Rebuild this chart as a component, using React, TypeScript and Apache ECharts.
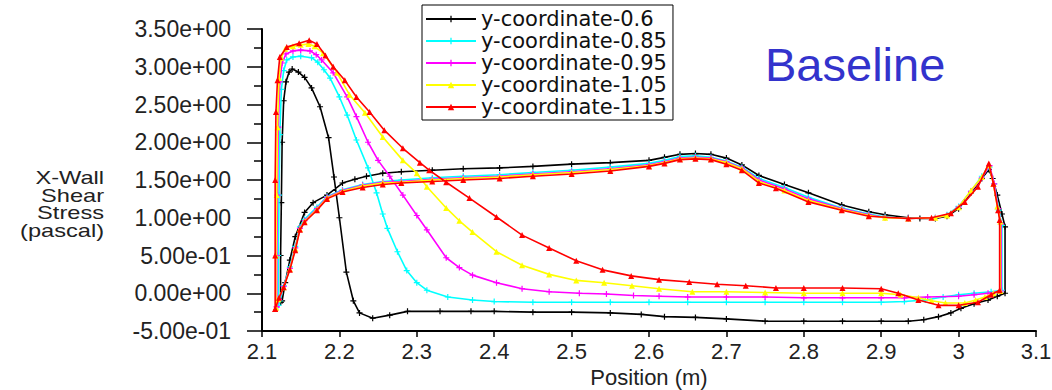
import React, { useEffect, useRef } from "react";
import * as echarts from "echarts";

const seriesNames = [
  "y-coordinate-0.6",
  "y-coordinate-0.85",
  "y-coordinate-0.95",
  "y-coordinate-1.05",
  "y-coordinate-1.15",
];
const seriesColors = ["#000000", "#00ffff", "#ff00ff", "#ffff00", "#ff0000"];

const xTicks = { min: 2.1, max: 3.1, step: 0.1 };
const yTicks = { min: -0.5, max: 3.5, step: 0.5 };
const yAxisTitleLines = ["X-Wall", "Shear", "Stress", "(pascal)"];

const y060: [number, number][] = [
  [2.124, -0.12], [2.124, 0.5], [2.125, 1.2], [2.126, 2.0], [2.128, 2.55], [2.131, 2.8], [2.135, 2.93],
  [2.139, 2.97], [2.147, 2.93], [2.155, 2.86], [2.164, 2.72], [2.175, 2.47], [2.186, 2.06], [2.193, 1.54],
  [2.2, 1.0], [2.209, 0.28], [2.218, -0.1], [2.226, -0.26], [2.243, -0.33], [2.265, -0.29], [2.288, -0.24],
  [2.33, -0.24], [2.37, -0.24], [2.4, -0.24], [2.45, -0.25], [2.5, -0.25], [2.55, -0.26], [2.59, -0.28],
  [2.62, -0.31], [2.66, -0.32], [2.7, -0.34], [2.75, -0.37], [2.8, -0.37], [2.85, -0.37], [2.9, -0.37],
  [2.935, -0.37], [2.955, -0.35], [2.974, -0.31], [2.99, -0.26], [3.003, -0.2], [3.02, -0.14], [3.038, -0.09],
  [3.05, -0.04], [3.06, 0.0], [3.06, 0.88], [3.056, 1.05], [3.05, 1.3], [3.044, 1.52], [3.039, 1.64],
  [3.03, 1.52], [3.016, 1.33], [3.0, 1.12], [2.985, 1.02], [2.97, 0.99], [2.95, 0.99], [2.935, 1.0],
  [2.905, 1.04], [2.884, 1.08], [2.849, 1.17], [2.806, 1.33], [2.775, 1.44], [2.742, 1.56], [2.72, 1.7],
  [2.7, 1.79], [2.68, 1.84], [2.66, 1.85], [2.64, 1.84], [2.62, 1.8], [2.6, 1.76], [2.55, 1.73], [2.5, 1.71],
  [2.45, 1.68], [2.407, 1.66], [2.36, 1.65], [2.32, 1.63], [2.28, 1.61], [2.256, 1.59], [2.235, 1.55],
  [2.22, 1.51], [2.204, 1.46], [2.184, 1.3], [2.166, 1.2], [2.155, 1.07], [2.143, 0.75], [2.136, 0.44],
  [2.13, 0.14], [2.126, -0.1], [2.124, -0.12],
];

const y085: [number, number][] = [
  [2.121, -0.16], [2.121, 0.5], [2.122, 1.3], [2.123, 2.1], [2.125, 2.7], [2.128, 2.95], [2.132, 3.09],
  [2.14, 3.13], [2.15, 3.14], [2.164, 3.12], [2.172, 3.06], [2.18, 2.96], [2.188, 2.85], [2.2, 2.6],
  [2.21, 2.36], [2.222, 2.03], [2.237, 1.66], [2.248, 1.33], [2.256, 1.05], [2.262, 0.86], [2.275, 0.55],
  [2.287, 0.3], [2.3, 0.14], [2.313, 0.04], [2.34, -0.05], [2.372, -0.09], [2.4, -0.11], [2.45, -0.12],
  [2.5, -0.12], [2.55, -0.12], [2.6, -0.12], [2.65, -0.12], [2.7, -0.12], [2.75, -0.12], [2.8, -0.12],
  [2.85, -0.12], [2.9, -0.12], [2.93, -0.11], [2.957, -0.09], [2.98, -0.05], [3.0, -0.02], [3.02, 0.0],
  [3.042, 0.02], [3.056, 0.04], [3.056, 0.9], [3.052, 1.1], [3.046, 1.45], [3.04, 1.67], [3.03, 1.55],
  [3.016, 1.35], [3.0, 1.15], [2.985, 1.04], [2.97, 1.0], [2.935, 0.99], [2.905, 1.01], [2.884, 1.05],
  [2.849, 1.13], [2.806, 1.27], [2.775, 1.4], [2.742, 1.52], [2.72, 1.67], [2.7, 1.75], [2.68, 1.8],
  [2.66, 1.82], [2.64, 1.81], [2.62, 1.76], [2.6, 1.72], [2.55, 1.67], [2.5, 1.63], [2.45, 1.6],
  [2.407, 1.57], [2.36, 1.55], [2.32, 1.53], [2.28, 1.5], [2.256, 1.48], [2.23, 1.44], [2.204, 1.37],
  [2.184, 1.28], [2.171, 1.14], [2.155, 0.98], [2.149, 0.88], [2.143, 0.62], [2.136, 0.35], [2.128, 0.1],
  [2.123, -0.1], [2.121, -0.16],
];

const y095: [number, number][] = [
  [2.119, -0.18], [2.119, 0.5], [2.12, 1.3], [2.121, 2.2], [2.123, 2.8], [2.126, 3.05], [2.131, 3.17],
  [2.14, 3.21], [2.15, 3.22], [2.162, 3.21], [2.17, 3.16], [2.177, 3.09], [2.192, 2.92], [2.21, 2.6],
  [2.222, 2.34], [2.237, 2.0], [2.25, 1.76], [2.265, 1.55], [2.282, 1.3], [2.3, 1.03], [2.313, 0.84],
  [2.338, 0.47], [2.355, 0.34], [2.372, 0.24], [2.403, 0.14], [2.436, 0.06], [2.471, 0.02], [2.51, 0.0],
  [2.545, -0.01], [2.58, -0.03], [2.613, -0.04], [2.65, -0.05], [2.7, -0.05], [2.75, -0.05], [2.8, -0.06],
  [2.85, -0.06], [2.9, -0.06], [2.93, -0.06], [2.96, -0.05], [3.0, -0.04], [3.02, -0.02], [3.038, 0.0],
  [3.055, 0.03], [3.055, 0.92], [3.051, 1.12], [3.046, 1.45], [3.04, 1.69], [3.03, 1.53], [3.016, 1.35],
  [3.0, 1.14], [2.985, 1.03], [2.97, 1.0], [2.935, 0.99], [2.905, 1.0], [2.884, 1.04], [2.849, 1.12],
  [2.806, 1.25], [2.775, 1.38], [2.742, 1.5], [2.72, 1.66], [2.7, 1.74], [2.68, 1.79], [2.66, 1.8],
  [2.64, 1.79], [2.62, 1.74], [2.6, 1.7], [2.55, 1.65], [2.5, 1.61], [2.45, 1.58], [2.407, 1.55],
  [2.36, 1.53], [2.32, 1.51], [2.28, 1.48], [2.256, 1.47], [2.23, 1.43], [2.204, 1.36], [2.184, 1.27],
  [2.171, 1.12], [2.155, 0.96], [2.149, 0.86], [2.143, 0.6], [2.136, 0.33], [2.128, 0.09], [2.122, -0.08],
  [2.119, -0.18],
];

const y105: [number, number][] = [
  [2.118, -0.19], [2.118, 0.5], [2.119, 1.3], [2.12, 2.2], [2.122, 2.85], [2.125, 3.12], [2.13, 3.24],
  [2.14, 3.27], [2.15, 3.29], [2.16, 3.3], [2.168, 3.27], [2.179, 3.18], [2.197, 2.92], [2.213, 2.63],
  [2.233, 2.39], [2.256, 2.07], [2.282, 1.76], [2.3, 1.59], [2.313, 1.41], [2.338, 1.13], [2.355, 0.96],
  [2.372, 0.81], [2.403, 0.55], [2.436, 0.37], [2.471, 0.25], [2.506, 0.17], [2.542, 0.14], [2.578, 0.1],
  [2.613, 0.06], [2.656, 0.02], [2.7, 0.02], [2.75, 0.01], [2.8, 0.0], [2.85, 0.0], [2.9, 0.0],
  [2.925, -0.02], [2.948, -0.06], [2.965, -0.1], [2.983, -0.13], [3.008, -0.13], [3.022, -0.09],
  [3.034, -0.05], [3.045, 0.0], [3.054, 0.03], [3.054, 0.95], [3.05, 1.15], [3.045, 1.45], [3.039, 1.7],
  [3.03, 1.54], [3.016, 1.36], [3.0, 1.14], [2.985, 1.03], [2.97, 1.0], [2.935, 0.99], [2.905, 1.0],
  [2.884, 1.03], [2.849, 1.11], [2.806, 1.23], [2.775, 1.36], [2.742, 1.48], [2.72, 1.65], [2.7, 1.73],
  [2.68, 1.78], [2.66, 1.79], [2.64, 1.78], [2.62, 1.73], [2.6, 1.69], [2.55, 1.64], [2.5, 1.6],
  [2.45, 1.57], [2.407, 1.54], [2.36, 1.52], [2.32, 1.5], [2.28, 1.47], [2.256, 1.46], [2.23, 1.42],
  [2.204, 1.35], [2.184, 1.26], [2.171, 1.11], [2.155, 0.95], [2.149, 0.85], [2.143, 0.59], [2.136, 0.32],
  [2.128, 0.08], [2.121, -0.08], [2.118, -0.19],
];

const y115: [number, number][] = [
  [2.117, -0.21], [2.117, 0.5], [2.117, 1.5], [2.118, 2.4], [2.12, 2.82], [2.123, 3.13], [2.132, 3.26],
  [2.148, 3.31], [2.161, 3.35], [2.171, 3.3], [2.182, 3.15], [2.192, 3.0], [2.207, 2.82], [2.222, 2.6],
  [2.239, 2.4], [2.258, 2.16], [2.282, 1.92], [2.304, 1.73], [2.316, 1.63], [2.338, 1.47], [2.368, 1.26],
  [2.403, 1.01], [2.436, 0.77], [2.471, 0.6], [2.506, 0.43], [2.54, 0.31], [2.577, 0.23], [2.613, 0.18],
  [2.652, 0.15], [2.688, 0.12], [2.725, 0.1], [2.764, 0.07], [2.8, 0.07], [2.85, 0.07], [2.9, 0.06],
  [2.922, 0.0], [2.948, -0.09], [2.974, -0.16], [3.0, -0.16], [3.025, -0.12], [3.042, -0.02],
  [3.053, 0.04], [3.053, 0.97], [3.051, 1.1], [3.045, 1.45], [3.039, 1.72], [3.025, 1.41], [3.008, 1.21],
  [2.99, 1.06], [2.965, 1.0], [2.935, 0.99], [2.884, 1.02], [2.849, 1.1], [2.806, 1.21], [2.764, 1.39],
  [2.742, 1.46], [2.72, 1.63], [2.7, 1.71], [2.68, 1.77], [2.66, 1.78], [2.64, 1.77], [2.62, 1.72],
  [2.6, 1.68], [2.55, 1.62], [2.5, 1.58], [2.45, 1.55], [2.407, 1.52], [2.36, 1.5], [2.32, 1.48],
  [2.28, 1.46], [2.256, 1.44], [2.23, 1.4], [2.204, 1.34], [2.184, 1.25], [2.171, 1.1], [2.155, 0.94],
  [2.149, 0.84], [2.143, 0.57], [2.136, 0.31], [2.128, 0.08], [2.122, -0.06], [2.117, -0.21],
];

const seriesData = [y060, y085, y095, y105, y115];
const CROSS = "path://M4,0H6V4H10V6H6V10H4V6H0V4H4Z";
const seriesSymbols = [CROSS, CROSS, CROSS, "triangle", "triangle"];

const FONT = "Liberation Sans, Arial, sans-serif";
const LEGEND_FONT = "DejaVu Sans, sans-serif";

function fmtExp(v: number): string {
  const s = v.toExponential(2);
  const [m, e] = s.split("e");
  const sign = e[0];
  const d = e.slice(1).padStart(2, "0");
  return `${m}e${sign}${d}`;
}

export default function App() {
  const ref = useRef<HTMLDivElement>(null);
  useEffect(() => {
    document.body.style.margin = "0";
    if (!ref.current) return;
    const chart = echarts.init(ref.current, undefined, { renderer: "svg" });
    chart.setOption({
      animation: false,
      backgroundColor: "#ffffff",
      grid: {
        left: 262,
        right: 16,
        top: 29,
        bottom: 59,
        containLabel: false,
        outerBoundsMode: "none",
      },
      legend: {
        orient: "vertical",
        left: 422,
        top: 5,
        padding: [3, 6, 2, 3],
        itemGap: 0,
        itemWidth: 50,
        itemHeight: 8,
        borderColor: "#000",
        borderWidth: 1,
        backgroundColor: "#fff",
        data: seriesNames,
        textStyle: { fontSize: 21, fontFamily: LEGEND_FONT, color: "#111", lineHeight: 22 },
      },
      xAxis: {
        type: "value",
        min: xTicks.min,
        max: xTicks.max,
        interval: xTicks.step,
        name: "Position (m)",
        nameLocation: "middle",
        nameGap: 28,
        nameTextStyle: { fontSize: 22, fontFamily: FONT, color: "#222" },
        axisLine: { show: true, onZero: false, lineStyle: { color: "#000", width: 2 } },
        axisTick: { show: true, length: 6, lineStyle: { color: "#000", width: 1.5 } },
        splitLine: { show: false },
        axisLabel: {
          fontSize: 22,
          fontFamily: FONT,
          color: "#222",
          margin: 9,
          formatter: (v: number) => String(Math.round(v * 10) / 10),
        },
      },
      yAxis: {
        type: "value",
        min: yTicks.min,
        max: yTicks.max,
        interval: yTicks.step,
        axisLine: { show: true, onZero: false, lineStyle: { color: "#000", width: 2 } },
        axisTick: { show: true, length: 15, lineStyle: { color: "#000", width: 1.5 } },
        minorTick: { show: true, splitNumber: 2, length: 8, lineStyle: { color: "#000", width: 1.5 } },
        splitLine: { show: false },
        axisLabel: {
          fontSize: 23,
          fontFamily: FONT,
          color: "#222",
          margin: 31,
          formatter: (v: number) => fmtExp(v),
        },
      },
      graphic: [
        {
          type: "text",
          left: 765,
          top: 41,
          style: {
            text: "Baseline",
            font: `47px ${FONT}`,
            fill: "#3333cc",
          },
        },
        ...yAxisTitleLines.map((line, i) => ({
          type: "text",
          x: 104,
          y: 178 + i * 17.5,
          scaleX: 1.35,
          originX: 0,
          originY: 0,
          style: {
            text: line,
            font: `17.5px ${FONT}`,
            fill: "#222",
            align: "right",
            verticalAlign: "middle",
          },
        })),
      ],
      series: seriesNames.map((name, i) => ({
        name,
        type: "line",
        data: seriesData[i],
        showSymbol: true,
        symbol: seriesSymbols[i],
        symbolSize: 6,
        color: seriesColors[i],
        itemStyle: { color: seriesColors[i] },
        lineStyle: { color: seriesColors[i], width: 1.6 },
        z: 2 + i,
      })),
    });
    return () => chart.dispose();
  }, []);
  return <div ref={ref} style={{ width: 1052, height: 390 }} />;
}
